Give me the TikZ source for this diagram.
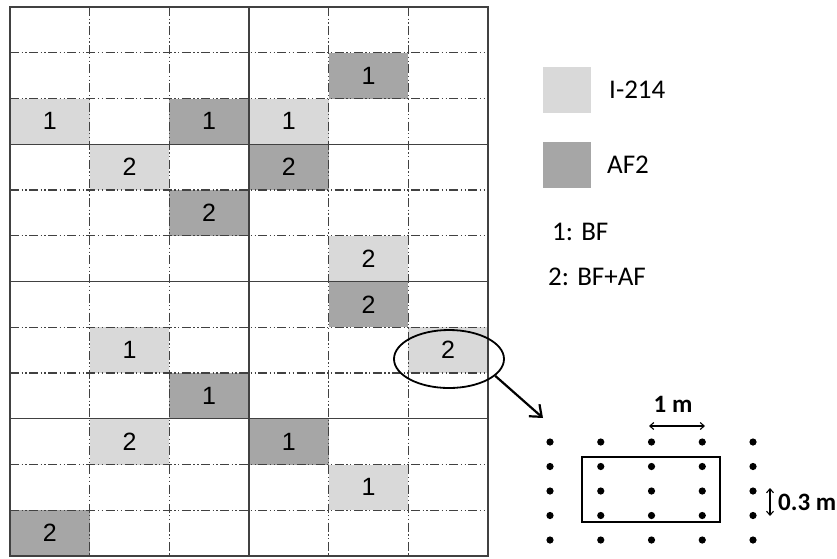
\documentclass[tikz,border=0pt]{standalone}
\usepackage{fontspec}
\setmainfont{Carlito}
\newfontfamily\cellfont{Liberation Sans}
\usetikzlibrary{arrows.meta,shapes.geometric}
\definecolor{lightc}{RGB}{217,217,217}
\definecolor{darkc}{RGB}{166,166,166}
\definecolor{gridc}{RGB}{65,65,65}
\tikzset{
  cellbox/.style={minimum width=79.67pt, minimum height=45.75pt, inner sep=0pt, outer sep=0pt,
    font=\cellfont\fontsize{25}{25}\selectfont},
  lightcell/.style={cellbox, fill=lightc},
  darkcell/.style={cellbox, fill=darkc},
  dashdot/.style={draw=gridc, line width=1.3pt, dash pattern=on 9pt off 2.5pt on 1.3pt off 2.5pt on 1.3pt off 2.5pt},
  solidline/.style={draw=gridc, line width=1.4pt},
  legtext/.style={anchor=west, font=\fontsize{27}{27}\selectfont, inner sep=0pt},
  dimtext/.style={font=\bfseries\fontsize{25}{25}\selectfont, inner sep=0pt},
  dotmark/.style={fill=black}
}
\begin{document}
\begin{tikzpicture}[x=1pt,y=-1pt]
\useasboundingbox (0,0) rectangle (837,558);
\fill[white] (0,0) rectangle (837,558);
% shaded cells: col/row/style/label
\foreach \c/\r/\s/\n in {5/2/darkcell/1, 1/3/lightcell/1, 3/3/darkcell/1, 4/3/lightcell/1,
  2/4/lightcell/2, 4/4/darkcell/2, 3/5/darkcell/2, 5/6/lightcell/2, 5/7/darkcell/2,
  2/8/lightcell/1, 6/8/lightcell/2, 3/9/darkcell/1, 2/10/lightcell/2, 4/10/darkcell/1,
  5/11/lightcell/1, 1/12/darkcell/2}{
  \node[\s] (cell-\c-\r) at ({10+79.67*(\c-0.5)},{7+45.75*(\r-0.5)}) {\n};
}
% dash-dot horizontal lines
\foreach \r in {1,2,4,5,7,8,10,11}{
  \draw[dashdot] (10,{7+45.75*\r}) -- (488,{7+45.75*\r});
}
% dash-dot vertical lines
\foreach \c in {1,2,4,5}{
  \draw[dashdot] ({10+79.67*\c},7) -- ({10+79.67*\c},556);
}
% solid lines
\foreach \r in {3,6,9}{
  \draw[solidline] (10,{7+45.75*\r}) -- (488,{7+45.75*\r});
}
\draw[solidline] ({10+79.67*3},7) -- ({10+79.67*3},556);
\draw[solidline] (10,7) rectangle (488,556);
% legend
\node[fill=lightc, minimum width=48pt, minimum height=46pt, inner sep=0pt] (legl) at (567,90) {};
\node[legtext] (legltext) at (609,90) {I-214};
\node[fill=darkc, minimum width=48pt, minimum height=46pt, inner sep=0pt] (legd) at (567,165) {};
\node[legtext] (legdtext) at (607,165) {AF2};
\node[legtext] (leg1) at (552,232) {1: BF};
\node[legtext] (leg2) at (548,277) {2: BF+AF};
% zoom ellipse and arrow
\node[draw, ellipse, line width=1.8pt, minimum width=110pt, minimum height=58pt] (zoomell) at (449,359) {};
\coordinate (arrend) at (543,418);
\draw[line width=2.2pt, -{Straight Barb[length=10pt,width=16pt]}] (zoomell.-20) -- (arrend);
% plot layout
\foreach \i in {0,...,4}{
  \foreach \j in {0,...,4}{
    \fill[dotmark] ({550+50.75*\i},{442+24.5*\j}) circle (3.6pt);
  }
}
\node[draw, line width=2.6pt, minimum width=138pt, minimum height=65pt, inner sep=0pt] (plotbox) at (651,489.5) {};
\node[dimtext] (onem) at (673,404) {1 m};
\coordinate (ma) at (649,426);
\coordinate (mb) at (705,426);
\draw[line width=1.1pt, {Straight Barb[length=4pt,width=7pt]}-{Straight Barb[length=4pt,width=7pt]}] (ma) -- (mb);
\coordinate (va) at (770,488);
\coordinate (vb) at (770,516);
\draw[line width=1.1pt, {Straight Barb[length=4pt,width=7pt]}-{Straight Barb[length=4pt,width=7pt]}] (va) -- (vb);
\node[dimtext, anchor=west] (pointthree) at (778,502) {0.3 m};
\end{tikzpicture}
\end{document}
